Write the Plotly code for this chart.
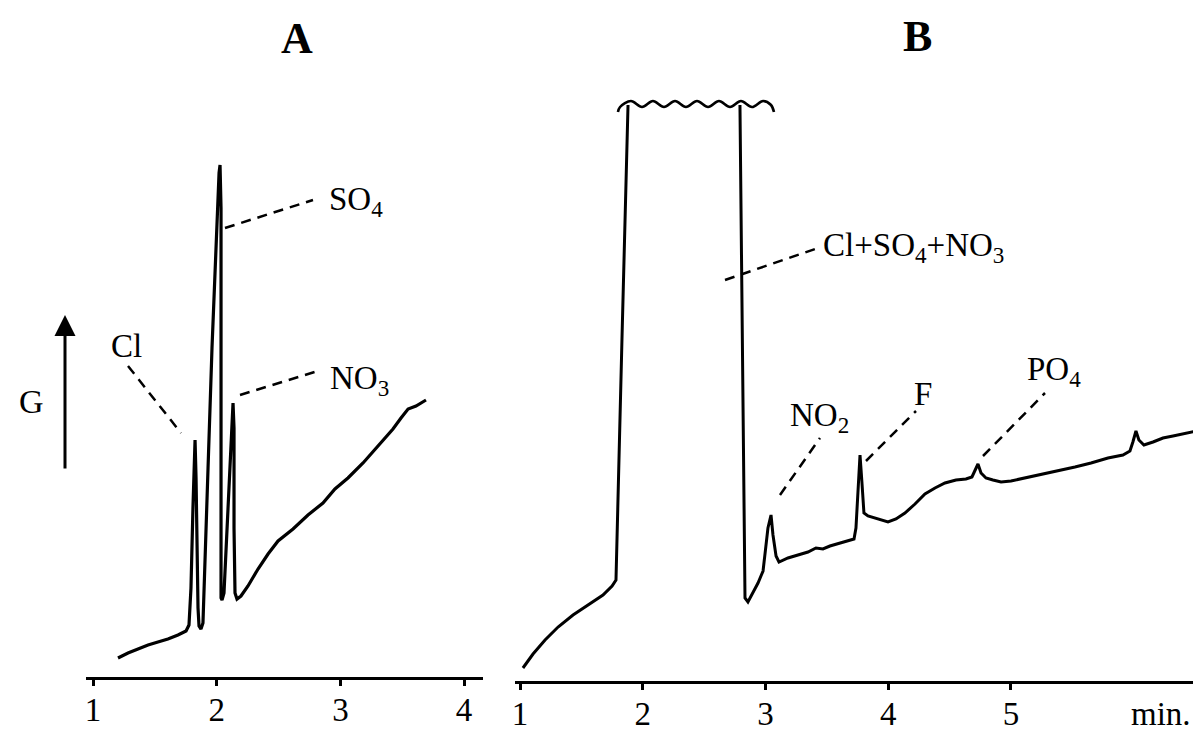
import plotly.graph_objects as go

# ---------------- data (minutes, conductivity G in arbitrary units) ----------------
# Panel A
a_time = [1.202, 1.283, 1.364, 1.445, 1.525, 1.606, 1.687, 1.752, 1.776, 1.792, 1.808, 1.825,
          1.833, 1.841, 1.849, 1.857, 1.873, 1.889, 1.905, 1.930, 1.962, 1.994, 2.019, 2.027,
          2.035, 2.035, 2.043, 2.059, 2.075, 2.100, 2.124, 2.132, 2.140, 2.140, 2.148, 2.164,
          2.196, 2.253, 2.334, 2.415, 2.496, 2.617, 2.738, 2.859, 2.956, 3.061, 3.183, 3.304,
          3.425, 3.490, 3.547, 3.611, 3.692]
a_signal = [4.4, 5.4, 6.2, 7.0, 7.6, 8.2, 9.0, 9.8, 11.0, 18.4, 34.4, 48.0,
            40.4, 26.4, 14.4, 10.8, 10.2, 11.4, 22.4, 42.4, 66.4, 88.4, 101.4, 103.0,
            94.4, 16.4, 16.0, 17.4, 26.4, 40.4, 52.4, 55.4, 50.4, 30.4, 17.4, 16.2,
            16.8, 18.8, 22.2, 25.2, 27.8, 30.2, 33.0, 35.4, 38.2, 40.4, 43.4, 46.8,
            50.2, 52.4, 54.2, 54.8, 56.0]
a_ticks = [1, 2, 3, 4]

# Panel B - rising edge of the off-scale macro-component zone
b_left_time = [1.024, 1.106, 1.204, 1.310, 1.432, 1.554, 1.676, 1.750, 1.782, 1.831, 1.880]
b_left_signal = [2.4, 5.2, 8.0, 10.6, 13.0, 15.0, 17.0, 18.8, 20.0, 68.4, 115.0]
# Panel B - off-scale (cut) top
b_top_time = [1.798, 1.815, 1.904, 1.994, 2.083, 2.173, 2.263, 2.352, 2.442, 2.532, 2.621,
              2.711, 2.800, 2.890, 2.980, 3.045, 3.069]
b_top_signal = [113.6, 114.6, 115.8, 114.6, 115.8, 114.6, 115.8, 114.6, 115.8, 114.6, 115.8,
                114.6, 115.8, 114.6, 115.8, 115.0, 113.6]
# Panel B - falling edge and micro-components
b_right_time = [2.792, 2.817, 2.833, 2.857, 2.898, 2.939, 2.980, 2.996, 3.020, 3.045, 3.061,
                3.086, 3.110, 3.183, 3.265, 3.346, 3.411, 3.468, 3.525, 3.607, 3.672, 3.721,
                3.737, 3.754, 3.770, 3.786, 3.802, 3.835, 3.916, 3.998, 4.063, 4.136, 4.218,
                4.299, 4.381, 4.462, 4.552, 4.633, 4.682, 4.707, 4.731, 4.756, 4.796, 4.853,
                4.919, 5.000, 5.114, 5.236, 5.383, 5.521, 5.652, 5.790, 5.912, 5.969, 5.993,
                6.018, 6.042, 6.083, 6.157, 6.238, 6.320, 6.426, 6.548]
b_right_signal = [115.0, 54.4, 16.4, 15.6, 17.4, 19.4, 21.8, 25.4, 30.4, 33.0, 29.0,
                  24.8, 23.6, 24.4, 25.0, 25.6, 26.4, 26.2, 26.8, 27.4, 27.8, 28.2,
                  30.4, 38.4, 45.0, 39.4, 33.4, 32.8, 32.2, 31.6, 32.2, 33.4, 35.2,
                  37.2, 38.4, 39.4, 40.0, 40.2, 40.6, 42.0, 43.2, 41.4, 40.4, 40.0,
                  39.6, 39.8, 40.4, 41.0, 41.8, 42.6, 43.4, 44.4, 45.0, 45.8, 47.6,
                  49.8, 48.0, 47.0, 47.6, 48.4, 48.8, 49.4, 50.0]
b_ticks = [1, 2, 3, 4, 5]

# ---------------- layout helpers ----------------
W, H = 1201, 748
SERIF = "Liberation Serif, Times New Roman, serif"


def px(x):
    return x / W


def py(y):
    return 1 - y / H


fig = go.Figure()
fig.add_trace(go.Scatter(x=a_time, y=a_signal, xaxis="x", yaxis="y", mode="lines",
                         line=dict(color="black", width=3.2), showlegend=False, hoverinfo="skip"))
fig.add_trace(go.Scatter(x=b_left_time, y=b_left_signal, xaxis="x2", yaxis="y", mode="lines",
                         line=dict(color="black", width=3), showlegend=False, hoverinfo="skip"))
fig.add_trace(go.Scatter(x=b_top_time, y=b_top_signal, xaxis="x2", yaxis="y", mode="lines",
                         line=dict(color="black", width=2.6, shape="spline"),
                         showlegend=False, hoverinfo="skip"))
fig.add_trace(go.Scatter(x=b_right_time, y=b_right_signal, xaxis="x2", yaxis="y", mode="lines",
                         line=dict(color="black", width=3), showlegend=False, hoverinfo="skip"))

tickfont = dict(family=SERIF, size=33, color="black")
common_axis = dict(showline=True, linecolor="black", linewidth=3, ticks="outside", ticklen=6,
                   tickwidth=3, tickcolor="black", tickfont=tickfont, showgrid=False,
                   zeroline=False, anchor="free", ticklabelstandoff=-5)

fig.update_layout(
    width=W, height=H,
    margin=dict(l=0, r=0, t=0, b=0, autoexpand=False),
    paper_bgcolor="white", plot_bgcolor="white",
    xaxis=dict(domain=[px(78), px(475)], range=[0.9434, 4.1528], position=py(670),
               tickvals=a_ticks, **common_axis),
    xaxis2=dict(domain=[px(507), px(1195)], range=[0.9593, 6.5642], position=py(674),
                tickvals=b_ticks, **common_axis),
    yaxis=dict(domain=[0, 1], range=[-15.2, 134.4], visible=False),
)

# dashed leader lines (pixel positions on the page)
leaders = [
    ((120, 358), (173, 425)),   # Cl
    ((217, 220), (305, 192)),   # SO4
    ((232, 387), (313, 362)),   # NO3
    ((717, 272), (807, 241)),   # Cl+SO4+NO3
    ((772, 487), (812, 430)),   # NO2
    ((858, 453), (908, 403)),   # F
    ((975, 448), (1037, 385)),  # PO4
]
for (x0, y0), (x1, y1) in leaders:
    fig.add_shape(type="line", xref="paper", yref="paper", x0=px(x0), y0=py(y0),
                  x1=px(x1), y1=py(y1), line=dict(color="black", width=2.5, dash="10px,7px"))

labels = [
    ("Cl", 118, 338, 33),
    ("SO<sub>4</sub>", 348, 194, 33),
    ("NO<sub>3</sub>", 351, 372, 33),
    ("Cl+SO<sub>4</sub>+NO<sub>3</sub>", 905, 240, 33),
    ("NO<sub>2</sub>", 812, 409, 33),
    ("F", 915, 386, 33),
    ("PO<sub>4</sub>", 1046, 364, 33),
    ("G", 23, 393, 34),
    ("min.", 1153, 706, 33),
]
for text, x, y, size in labels:
    fig.add_annotation(text=text, xref="paper", yref="paper", x=px(x), y=py(y),
                       xanchor="center", yanchor="middle", showarrow=False,
                       font=dict(family=SERIF, size=size, color="black"))

for text, x, y in [("A", 289, 30), ("B", 909, 28)]:
    fig.add_annotation(text="<b>%s</b>" % text, xref="paper", yref="paper", x=px(x), y=py(y),
                       xanchor="center", yanchor="middle", showarrow=False,
                       font=dict(family=SERIF, size=44, color="black"))

# G axis arrow
fig.add_annotation(text="", xref="paper", yref="paper", x=px(57), y=py(307),
                   ax=0, ay=155, axref="pixel", ayref="pixel", showarrow=True,
                   arrowhead=2, arrowsize=1.4, arrowwidth=3, arrowcolor="black", standoff=0)

fig.write_html("out.html")
